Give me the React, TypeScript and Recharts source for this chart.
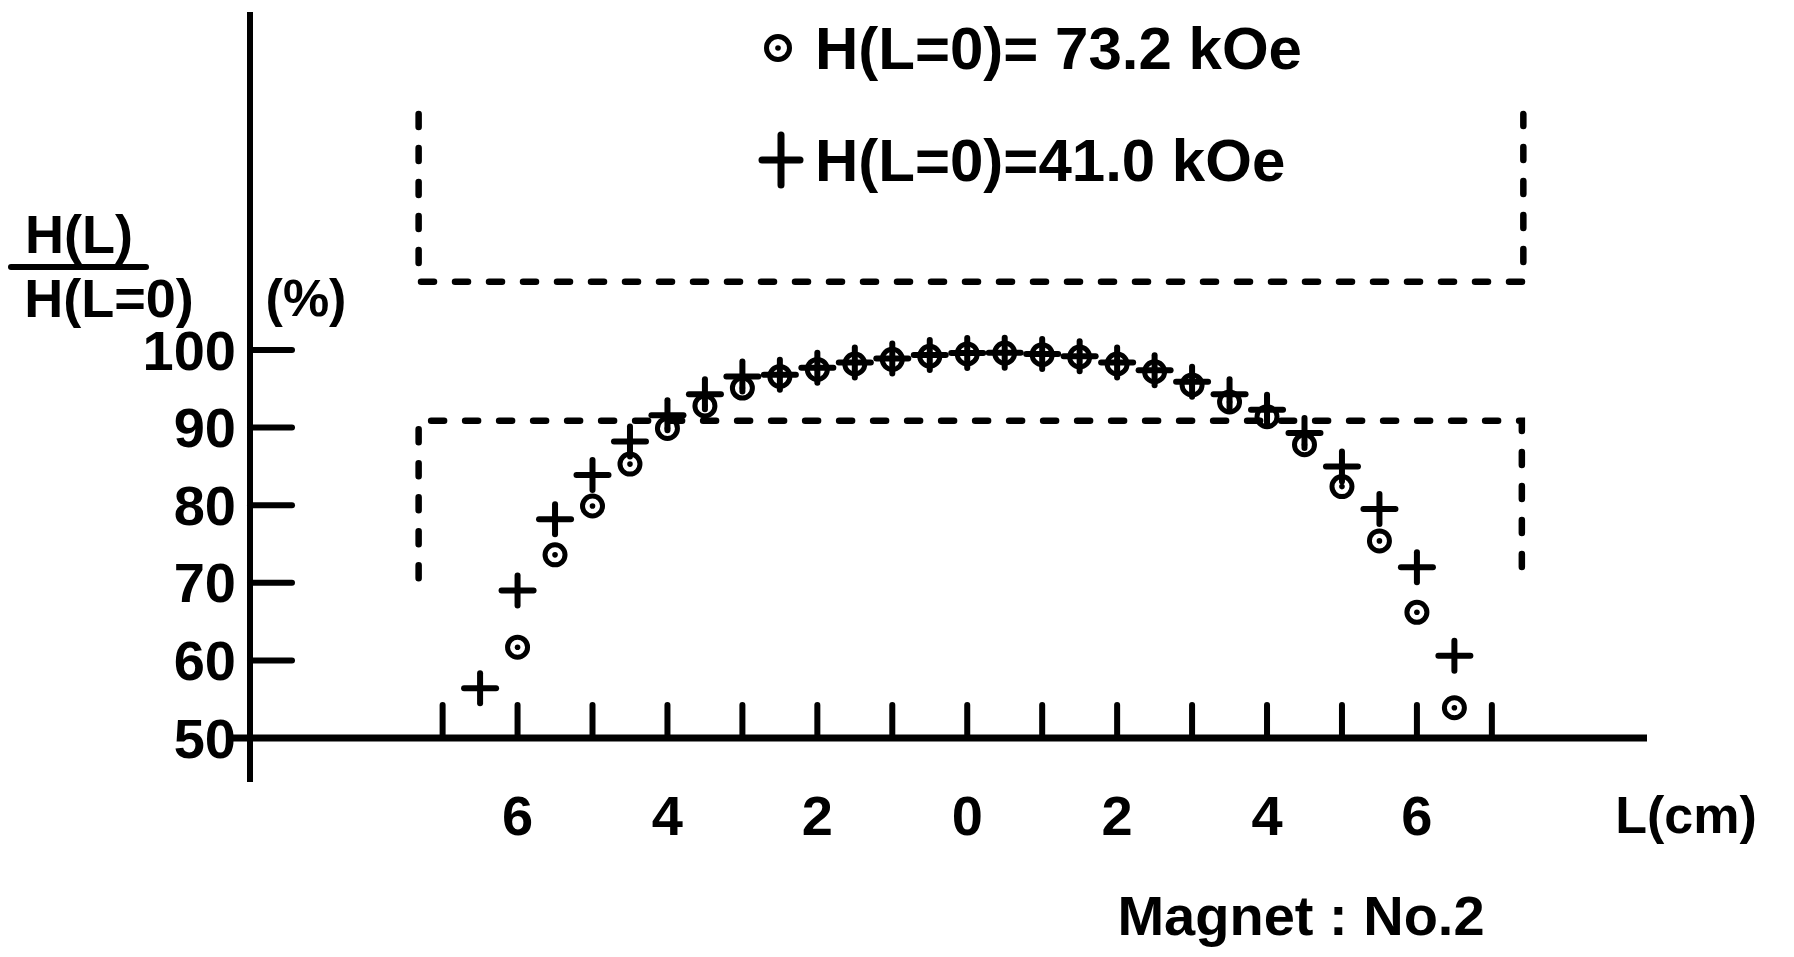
import { ReferenceLine, Scatter, ScatterChart, XAxis, YAxis } from 'recharts'

// positions along the magnet axis (cm), 0.5 cm steps
const positions = [
  -6.5, -6, -5.5, -5, -4.5, -4, -3.5, -3, -2.5, -2, -1.5, -1, -0.5, 0, 0.5, 1,
  1.5, 2, 2.5, 3, 3.5, 4, 4.5, 5, 5.5, 6, 6.5,
]

// H(L)/H(L=0) in %, H(L=0) = 73.2 kOe (circles)
const field73 = [
  null, 61.7, 73.6, 79.9, 85.3, 89.9, 92.8, 95.1, 96.6, 97.5, 98.2, 98.8, 99.2,
  99.5, 99.6, 99.4, 99.1, 98.2, 97.2, 95.5, 93.3, 91.4, 87.8, 82.4, 75.4, 66.2,
  53.9,
]

// H(L)/H(L=0) in %, H(L=0) = 41.0 kOe (crosses)
const field41 = [
  56.4, 69.0, 78.2, 83.9, 88.2, 91.6, 94.3, 96.6, 96.8, 97.7, 98.4, 98.9, 99.35,
  99.6, 99.65, 99.5, 99.2, 98.4, 97.4, 95.9, 94.3, 92.3, 89.3, 85.0, 79.5, 72.0,
  60.6,
]

// dashed outlines of the magnet (cm, %)
const upperOutlineL = [-7.32, -7.32, 7.42, 7.42]
const upperOutlineH = [130.4, 108.8, 108.8, 130.4]
const lowerOutlineL = [-7.32, -7.32, 7.4, 7.4]
const lowerOutlineH = [70.6, 90.9, 90.9, 69.6]

const yTicks = [50, 60, 70, 80, 90, 100]
const xTickMarks = [-7, -6, -5, -4, -3, -2, -1, 0, 1, 2, 3, 4, 5, 6, 7]
const xLabels = [-6, -4, -2, 0, 2, 4, 6]

const FONT = '"Liberation Sans", Arial, sans-serif'
const INK = '#000'

const toPoints = (xs: number[], ys: (number | null)[]) =>
  xs
    .map((x, i) => ({ x, y: ys[i] }))
    .filter((p) => p.y !== null) as { x: number; y: number }[]

const circleData = toPoints(positions, field73)
const crossData = toPoints(positions, field41)
const upperOutline = toPoints(upperOutlineL, upperOutlineH)
const lowerOutline = toPoints(lowerOutlineL, lowerOutlineH)

function CircleDot({ cx, cy, r = 10 }: { cx?: number; cy?: number; r?: number }) {
  if (cx == null || cy == null) return <g />
  return (
    <g>
      <circle cx={cx} cy={cy} r={r} fill="none" stroke={INK} strokeWidth={5} />
      <circle cx={cx} cy={cy} r={2.8} fill={INK} />
    </g>
  )
}

function Cross({
  cx,
  cy,
  w = 16,
  h = 15,
  sw = 6,
}: {
  cx?: number
  cy?: number
  w?: number
  h?: number
  sw?: number
}) {
  if (cx == null || cy == null) return <g />
  return (
    <g stroke={INK} strokeWidth={sw} strokeLinecap="round">
      <line x1={cx - w} y1={cy} x2={cx + w} y2={cy} />
      <line x1={cx} y1={cy - h} x2={cx} y2={cy + h} />
    </g>
  )
}

const NoShape = () => <g />

function YTick({ x, y, payload }: any) {
  return (
    <g>
      {payload.value !== 50 && (
        <line x1={x} y1={y} x2={x + 42} y2={y} stroke={INK} strokeWidth={6} strokeLinecap="round" />
      )}
      <text
        x={x - 14}
        y={y}
        textAnchor="end"
        dominantBaseline="central"
        fontFamily={FONT}
        fontWeight="bold"
        fontSize={56}
        fill={INK}
      >
        {payload.value}
      </text>
    </g>
  )
}

function XTick({ x, y, payload }: any) {
  return (
    <text
      x={x}
      y={y + 33}
      textAnchor="middle"
      dominantBaseline="central"
      fontFamily={FONT}
      fontWeight="bold"
      fontSize={56}
      fill={INK}
    >
      {Math.abs(payload.value)}
    </text>
  )
}

const textStyle = {
  fontFamily: FONT,
  fontWeight: 'bold' as const,
  fill: INK,
}

const dashed = {
  stroke: INK,
  strokeWidth: 6.5,
  strokeDasharray: '13 21',
  strokeLinecap: 'round' as const,
}

export default function App() {
  return (
    <div style={{ position: 'absolute', left: 0, top: 0, width: 1794, height: 957, background: '#fff' }}>
      <ScatterChart
        width={1794}
        height={957}
        margin={{ top: 12, right: 147, bottom: 135, left: 130 }}
      >
        <XAxis
          type="number"
          dataKey="x"
          domain={[-9.57, 9.07]}
          allowDataOverflow
          ticks={xLabels}
          tick={<XTick />}
          tickSize={0}
          tickMargin={0}
          axisLine={false}
          tickLine={false}
          height={40}
        />
        <YAxis
          type="number"
          dataKey="y"
          domain={[44.33, 143.56]}
          allowDataOverflow
          ticks={yTicks}
          tick={<YTick />}
          tickSize={0}
          tickMargin={0}
          tickLine={false}
          axisLine={{ stroke: INK, strokeWidth: 6 }}
          width={120}
        />
        <ReferenceLine
          segment={[
            { x: -9.81, y: 50 },
            { x: 9.07, y: 50 },
          ]}
          ifOverflow="visible"
          stroke={INK}
          strokeWidth={7}
        />
        {xTickMarks.map((t) => (
          <ReferenceLine
            key={t}
            segment={[
              { x: t, y: 50 },
              { x: t, y: 54.25 },
            ]}
            stroke={INK}
            strokeWidth={6}
            strokeLinecap="round"
          />
        ))}
        <Scatter
          data={upperOutline}
          shape={NoShape}
          line={dashed}
          lineType="joint"
          isAnimationActive={false}
        />
        <Scatter
          data={lowerOutline}
          shape={NoShape}
          line={dashed}
          lineType="joint"
          isAnimationActive={false}
        />
        <Scatter
          name="H(L=0)=73.2 kOe"
          data={circleData}
          shape={(p: any) => <CircleDot cx={p.cx} cy={p.cy} />}
          isAnimationActive={false}
        />
        <Scatter
          name="H(L=0)=41.0 kOe"
          data={crossData}
          shape={(p: any) => <Cross cx={p.cx} cy={p.cy} />}
          isAnimationActive={false}
        />
      </ScatterChart>

      <svg
        width={1794}
        height={957}
        style={{ position: 'absolute', left: 0, top: 0, pointerEvents: 'none' }}
      >
        {/* legend */}
        <CircleDot cx={778} cy={48} r={11.5} />
        <text x={815} y={48} dominantBaseline="central" fontSize={60} {...textStyle}>
          H(L=0)= 73.2 kOe
        </text>
        <Cross cx={781} cy={160} w={19} h={25} sw={7} />
        <text x={815} y={160} dominantBaseline="central" fontSize={60} {...textStyle}>
          H(L=0)=41.0 kOe
        </text>

        {/* y axis title */}
        <text x={79} y={234} textAnchor="middle" dominantBaseline="central" fontSize={54} {...textStyle}>
          H(L)
        </text>
        <line x1={11} y1={267} x2={146} y2={267} stroke={INK} strokeWidth={6} strokeLinecap="round" />
        <text x={109} y={298} textAnchor="middle" dominantBaseline="central" fontSize={54} {...textStyle}>
          H(L=0)
        </text>
        <text x={306} y={298} textAnchor="middle" dominantBaseline="central" fontSize={52} {...textStyle}>
          (%)
        </text>

        {/* x axis title and caption */}
        <text x={1686} y={815} textAnchor="middle" dominantBaseline="central" fontSize={52} {...textStyle}>
          L(cm)
        </text>
        <text x={1301} y={915} textAnchor="middle" dominantBaseline="central" fontSize={56} {...textStyle}>
          Magnet : No.2
        </text>
      </svg>
    </div>
  )
}
